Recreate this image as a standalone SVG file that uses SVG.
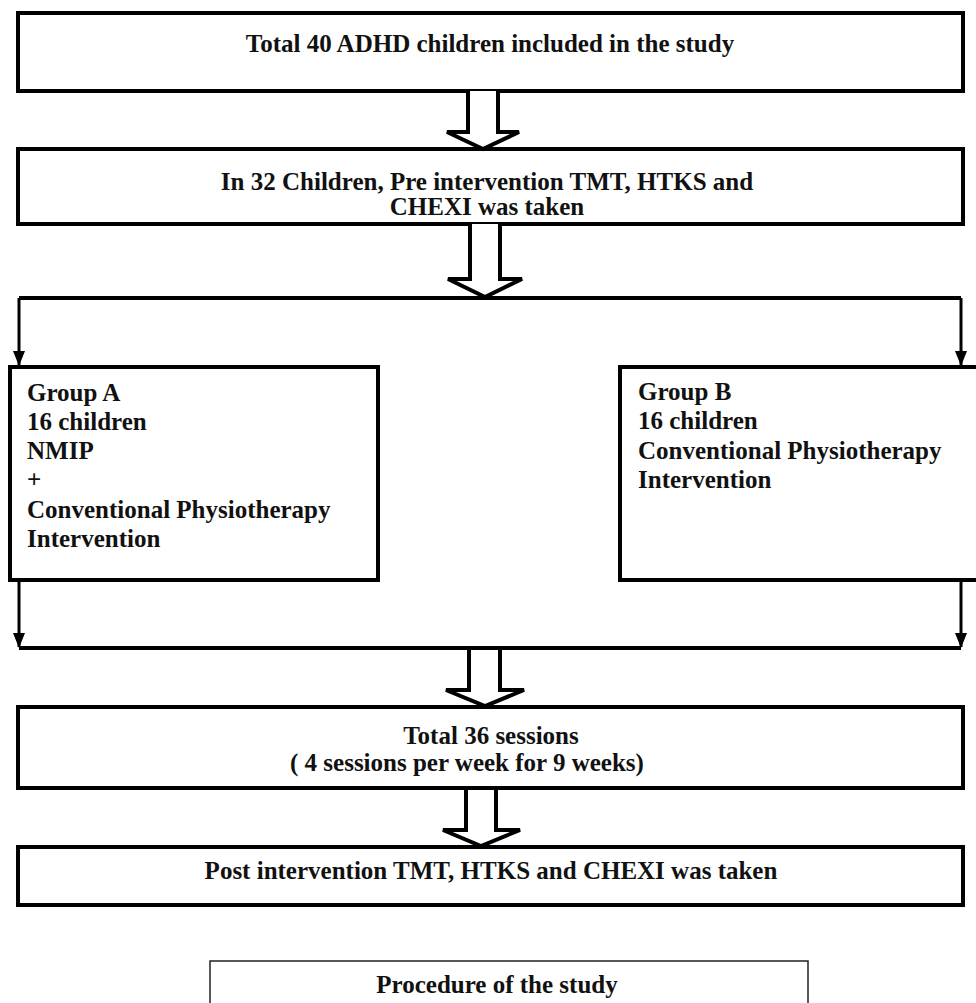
<svg xmlns="http://www.w3.org/2000/svg" width="976" height="1003" viewBox="0 0 976 1003">
<style>
.box{fill:#fff;stroke:#000;stroke-width:4}
.cap{fill:#fff;stroke:#222;stroke-width:1.5}
.t{font-family:"Liberation Serif","Times New Roman",serif;font-weight:bold;font-size:25px;fill:#111}
.c{text-anchor:middle}
.hollow{fill:#fff;stroke:#000;stroke-width:4;stroke-linejoin:miter}
.ln{fill:none;stroke:#000;stroke-width:3}
.bar{fill:none;stroke:#000;stroke-width:4}
</style>
<defs>
<marker id="ah" markerUnits="userSpaceOnUse" markerWidth="16" markerHeight="12" refX="14" refY="6" orient="auto" viewBox="0 0 16 12">
<path d="M0,0 L15,6 L0,12 Z" fill="#000"/>
</marker>
</defs>
<rect width="976" height="1003" fill="#fff"/>

<g id="n1">
<rect class="box" x="18" y="13" width="945" height="78"/>
<text class="t c" x="490" y="52">Total 40 ADHD children included in the study</text>
</g>
<g id="n2">
<rect class="box" x="18" y="149" width="945" height="75"/>
<text class="t c" x="487" y="190">In 32 Children, Pre intervention TMT, HTKS and</text>
<text class="t c" x="487" y="215">CHEXI was taken</text>
</g>
<g id="nA">
<rect class="box" x="10" y="367" width="368" height="213"/>
<text class="t" x="27" y="401">Group A</text>
<text class="t" x="27" y="430">16 children</text>
<text class="t" x="27" y="459">NMIP</text>
<text class="t" x="27" y="488">+</text>
<text class="t" x="27" y="518">Conventional Physiotherapy</text>
<text class="t" x="27" y="547">Intervention</text>
</g>
<g id="nB">
<rect class="box" x="620" y="367" width="360" height="213"/>
<text class="t" x="638" y="400">Group B</text>
<text class="t" x="638" y="429">16 children</text>
<text class="t" x="638" y="459">Conventional Physiotherapy</text>
<text class="t" x="638" y="488">Intervention</text>
</g>
<g id="n3">
<rect class="box" x="18" y="707" width="945" height="81"/>
<text class="t c" x="491" y="744">Total 36 sessions</text>
<text class="t" x="290" y="771">( 4 sessions per week for 9 weeks)</text>
</g>
<g id="n4">
<rect class="box" x="18" y="847" width="945" height="58"/>
<text class="t c" x="491" y="879">Post intervention TMT, HTKS and CHEXI was taken</text>
</g>
<g id="caption">
<rect class="cap" x="210" y="961" width="598" height="60"/>
<text class="t c" x="497" y="993">Procedure of the study</text>
</g>

<g id="connectors">
<path class="hollow" d="M468,91 L468,132 L447,132 L483,149 L519,132 L498,132 L498,91"/>
<path class="hollow" d="M470,224 L470,279 L448,279 L485,297 L522,279 L500,279 L500,224"/>
<path class="bar" d="M19,298 H961"/>
<path class="ln" d="M19,298 V365" marker-end="url(#ah)"/>
<path class="ln" d="M961,298 V365" marker-end="url(#ah)"/>
<path class="ln" d="M19,582 V647" marker-end="url(#ah)"/>
<path class="ln" d="M961,582 V647" marker-end="url(#ah)"/>
<path class="bar" d="M19,648 H961"/>
<path class="hollow" d="M469,650 L469,690 L446,690 L485,706 L524,690 L500,690 L500,650"/>
<path class="hollow" d="M466,790 L466,830 L443,830 L481,846 L520,830 L496,830 L496,790"/>
</g>
</svg>
